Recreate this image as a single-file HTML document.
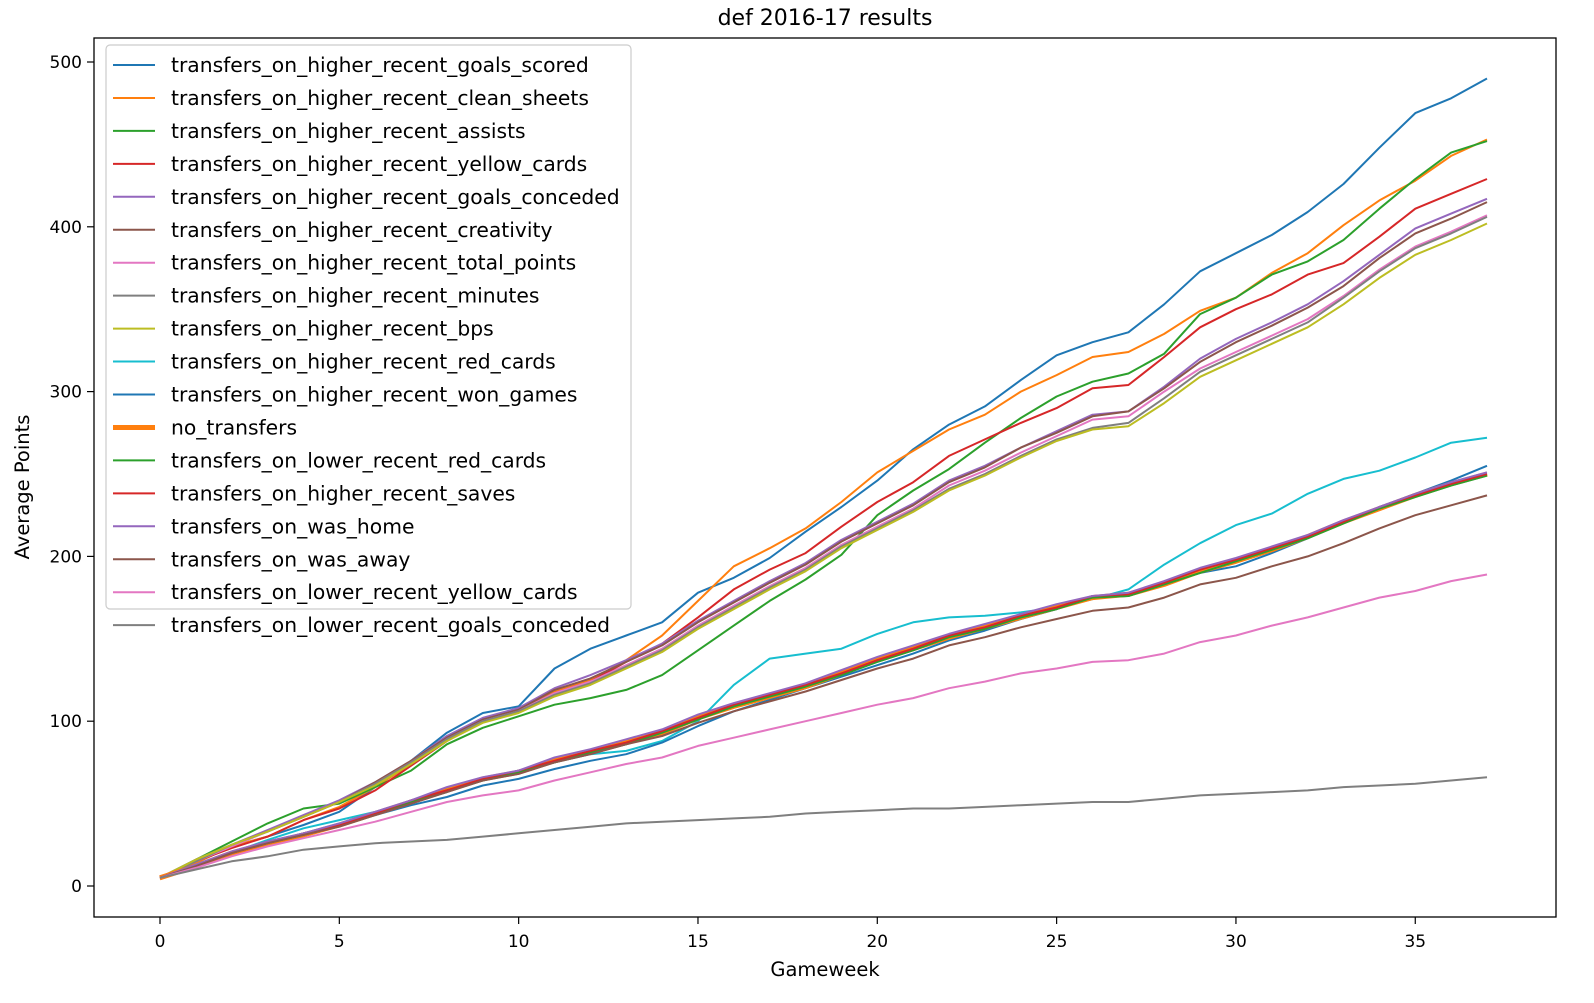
<!DOCTYPE html>
<html><head><meta charset="utf-8"><style>
html,body{margin:0;padding:0;background:#fff;}
svg{display:block;font-family:"DejaVu Sans","Liberation Sans",sans-serif;}
</style></head><body>
<svg id="chart" width="1594" height="1003">
<text x="825" y="25" text-anchor="middle" font-size="22">def 2016-17 results</text>
<text x="825" y="976" text-anchor="middle" font-size="19.5">Gameweek</text>
<text transform="translate(29,487) rotate(-90)" text-anchor="middle" font-size="19.5">Average Points</text>
<g id="grid"></g>
<g id="lines"></g>
<rect x="94" y="38" width="1462" height="879" fill="none" stroke="#000" stroke-width="1.3"/>
<g id="legend"></g>
</svg>
<script>
const gameweeks = Array.from({length:38},(_, i)=>i);
const xTicks = [0,5,10,15,20,25,30,35];
const yTicks = [0,100,200,300,400,500];
const seriesNames = ["transfers_on_higher_recent_goals_scored","transfers_on_higher_recent_clean_sheets","transfers_on_higher_recent_assists","transfers_on_higher_recent_yellow_cards","transfers_on_higher_recent_goals_conceded","transfers_on_higher_recent_creativity","transfers_on_higher_recent_total_points","transfers_on_higher_recent_minutes","transfers_on_higher_recent_bps","transfers_on_higher_recent_red_cards","transfers_on_higher_recent_won_games","no_transfers","transfers_on_lower_recent_red_cards","transfers_on_higher_recent_saves","transfers_on_was_home","transfers_on_was_away","transfers_on_lower_recent_yellow_cards","transfers_on_lower_recent_goals_conceded"];
const seriesColors = ["#1f77b4","#ff7f0e","#2ca02c","#d62728","#9467bd","#8c564b","#e377c2","#7f7f7f","#bcbd22","#17becf","#1f77b4","#ff7f0e","#2ca02c","#d62728","#9467bd","#8c564b","#e377c2","#7f7f7f"];
const goalsScored = [5,14,24,30,37,45,60,76,93,105,109,132,144,152,160,178,187,199,215,230,246,265,280,291,307,322,330,336,353,373,384,395,409,426,448,469,478,490];
const cleanSheets = [4,14,24,30,40,48,60,74,90,101,107,118,125,137,152,173,194,205,217,233,251,264,277,286,300,310,321,324,335,349,357,372,384,401,416,428,443,453];
const assists = [5,16,27,38,47,50,60,70,86,96,103,110,114,119,128,143,158,173,186,201,225,240,253,269,284,297,306,311,323,347,357,371,379,392,411,429,445,452];
const yellowCards = [5,15,23,30,40,47,58,73,88,100,106,117,124,136,147,163,180,192,202,218,233,245,261,271,281,290,302,304,321,339,350,359,371,378,394,411,420,429];
const goalsConceded = [5,16,25,34,43,52,63,76,91,102,108,120,128,137,147,161,173,185,196,210,221,232,246,255,266,276,286,288,303,320,332,342,353,367,383,399,408,417];
const creativity = [5,15,25,33,42,51,63,76,90,101,107,119,126,136,146,160,172,184,195,209,220,231,245,254,266,275,285,288,302,318,330,340,351,364,381,396,405,415];
const totalPoints = [5,15,24,33,42,51,62,75,89,100,106,117,124,134,144,158,170,182,193,207,218,229,243,252,263,273,283,285,300,314,324,334,344,358,374,388,397,407];
const minutes = [5,15,25,33,42,51,62,75,89,100,106,116,123,133,143,157,169,181,192,206,217,228,241,250,261,271,278,281,296,312,322,332,342,357,373,387,396,406];
const bps = [5,16,25,33,42,51,61,74,88,99,105,115,122,132,142,156,168,180,191,205,216,227,240,249,260,270,277,279,293,309,319,329,339,353,369,383,392,402];
const redCards = [5,12,20,28,35,40,45,51,57,65,70,75,80,82,88,100,122,138,141,144,153,160,163,164,166,169,174,180,195,208,219,226,238,247,252,260,269,272];
const wonGames = [5,12,20,26,32,37,43,49,54,61,65,71,76,80,87,97,106,113,120,127,134,141,149,155,162,168,175,176,183,190,194,202,211,221,230,238,246,255];
const noTransfers = [5,12,20,26,31,37,44,51,58,65,69,76,81,87,93,102,109,115,121,129,137,144,151,157,163,169,175,177,183,191,197,204,212,221,229,237,244,250];
const lowerRedCards = [5,12,20,26,31,37,44,51,58,64,69,75,81,86,93,101,109,115,121,128,136,143,151,156,163,168,175,176,183,190,197,204,211,220,229,236,243,249];
const saves = [5,12,20,26,32,37,44,52,58,65,70,76,82,87,94,102,110,116,122,129,137,144,152,157,164,169,176,177,184,192,198,205,212,221,230,237,244,250];
const wasHome = [5,13,21,27,32,38,45,52,60,66,70,78,83,89,95,104,111,117,123,131,139,146,153,159,165,171,176,178,185,193,199,206,213,222,230,238,245,251];
const wasAway = [5,12,20,26,31,36,43,50,57,64,68,75,80,86,91,99,106,112,118,125,132,138,146,151,157,162,167,169,175,183,187,194,200,208,217,225,231,237];
const lowerYellowCards = [5,11,18,24,29,34,39,45,51,55,58,64,69,74,78,85,90,95,100,105,110,114,120,124,129,132,136,137,141,148,152,158,163,169,175,179,185,189];
const lowerGoalsConceded = [5,10,15,18,22,24,26,27,28,30,32,34,36,38,39,40,41,42,44,45,46,47,47,48,49,50,51,51,53,55,56,57,58,60,61,62,64,66];
const seriesValues = [goalsScored,cleanSheets,assists,yellowCards,goalsConceded,creativity,totalPoints,minutes,bps,redCards,wonGames,noTransfers,lowerRedCards,saves,wasHome,wasAway,lowerYellowCards,lowerGoalsConceded];

const NS="http://www.w3.org/2000/svg";
function xScale(v){return 160+(1487-160)*v/37;}
function yScale(v){return 886-(886-62)*v/500;}
function mk(tag,attrs,parent){const e=document.createElementNS(NS,tag);for(const k in attrs)e.setAttribute(k,attrs[k]);parent.appendChild(e);return e;}
const grid=document.getElementById('grid');
xTicks.forEach(t=>{
  const x=xScale(t);
  const tk=mk('line',{x1:x,x2:x,y1:917,y2:924,stroke:'#000','stroke-width':1.2},grid);
  
  
  const lb=mk('text',{x:x,y:947,'text-anchor':'middle','font-size':17},grid);
  lb.textContent=t;
  
  
});
yTicks.forEach(t=>{
  const y=yScale(t);
  const tk=mk('line',{x1:87,x2:94,y1:y,y2:y,stroke:'#000','stroke-width':1.2},grid);
  
  
  const lb=mk('text',{x:82,y:y+6,'text-anchor':'end','font-size':17},grid);
  lb.textContent=t;
  
  
});
const lines=document.getElementById('lines');
seriesValues.forEach((vals,i)=>{
  const pts=vals.map((v,j)=>xScale(gameweeks[j]).toFixed(1)+','+yScale(v).toFixed(1)).join(' ');
  const pl=mk('polyline',{points:pts,fill:'none',stroke:seriesColors[i],'stroke-width':seriesNames[i]==='no_transfers'?5:2,'stroke-linejoin':'round'},lines);
  
  
});
const legend=document.getElementById('legend');
const box=mk('rect',{x:106,y:45,width:525,height:564,rx:4,fill:'#fff','fill-opacity':0.8,stroke:'#ccc','stroke-width':1.2},legend);


seriesNames.forEach((n,i)=>{
  const y=65+i*32.95;
  const ln=mk('line',{x1:113,x2:155,y1:y,y2:y,stroke:seriesColors[i],'stroke-width':n==='no_transfers'?5:2},legend);
  
  
  const tx=mk('text',{x:171,y:y+7,'font-size':20.3},legend);
  tx.textContent=n;
  
  
});
</script>
</body></html>
